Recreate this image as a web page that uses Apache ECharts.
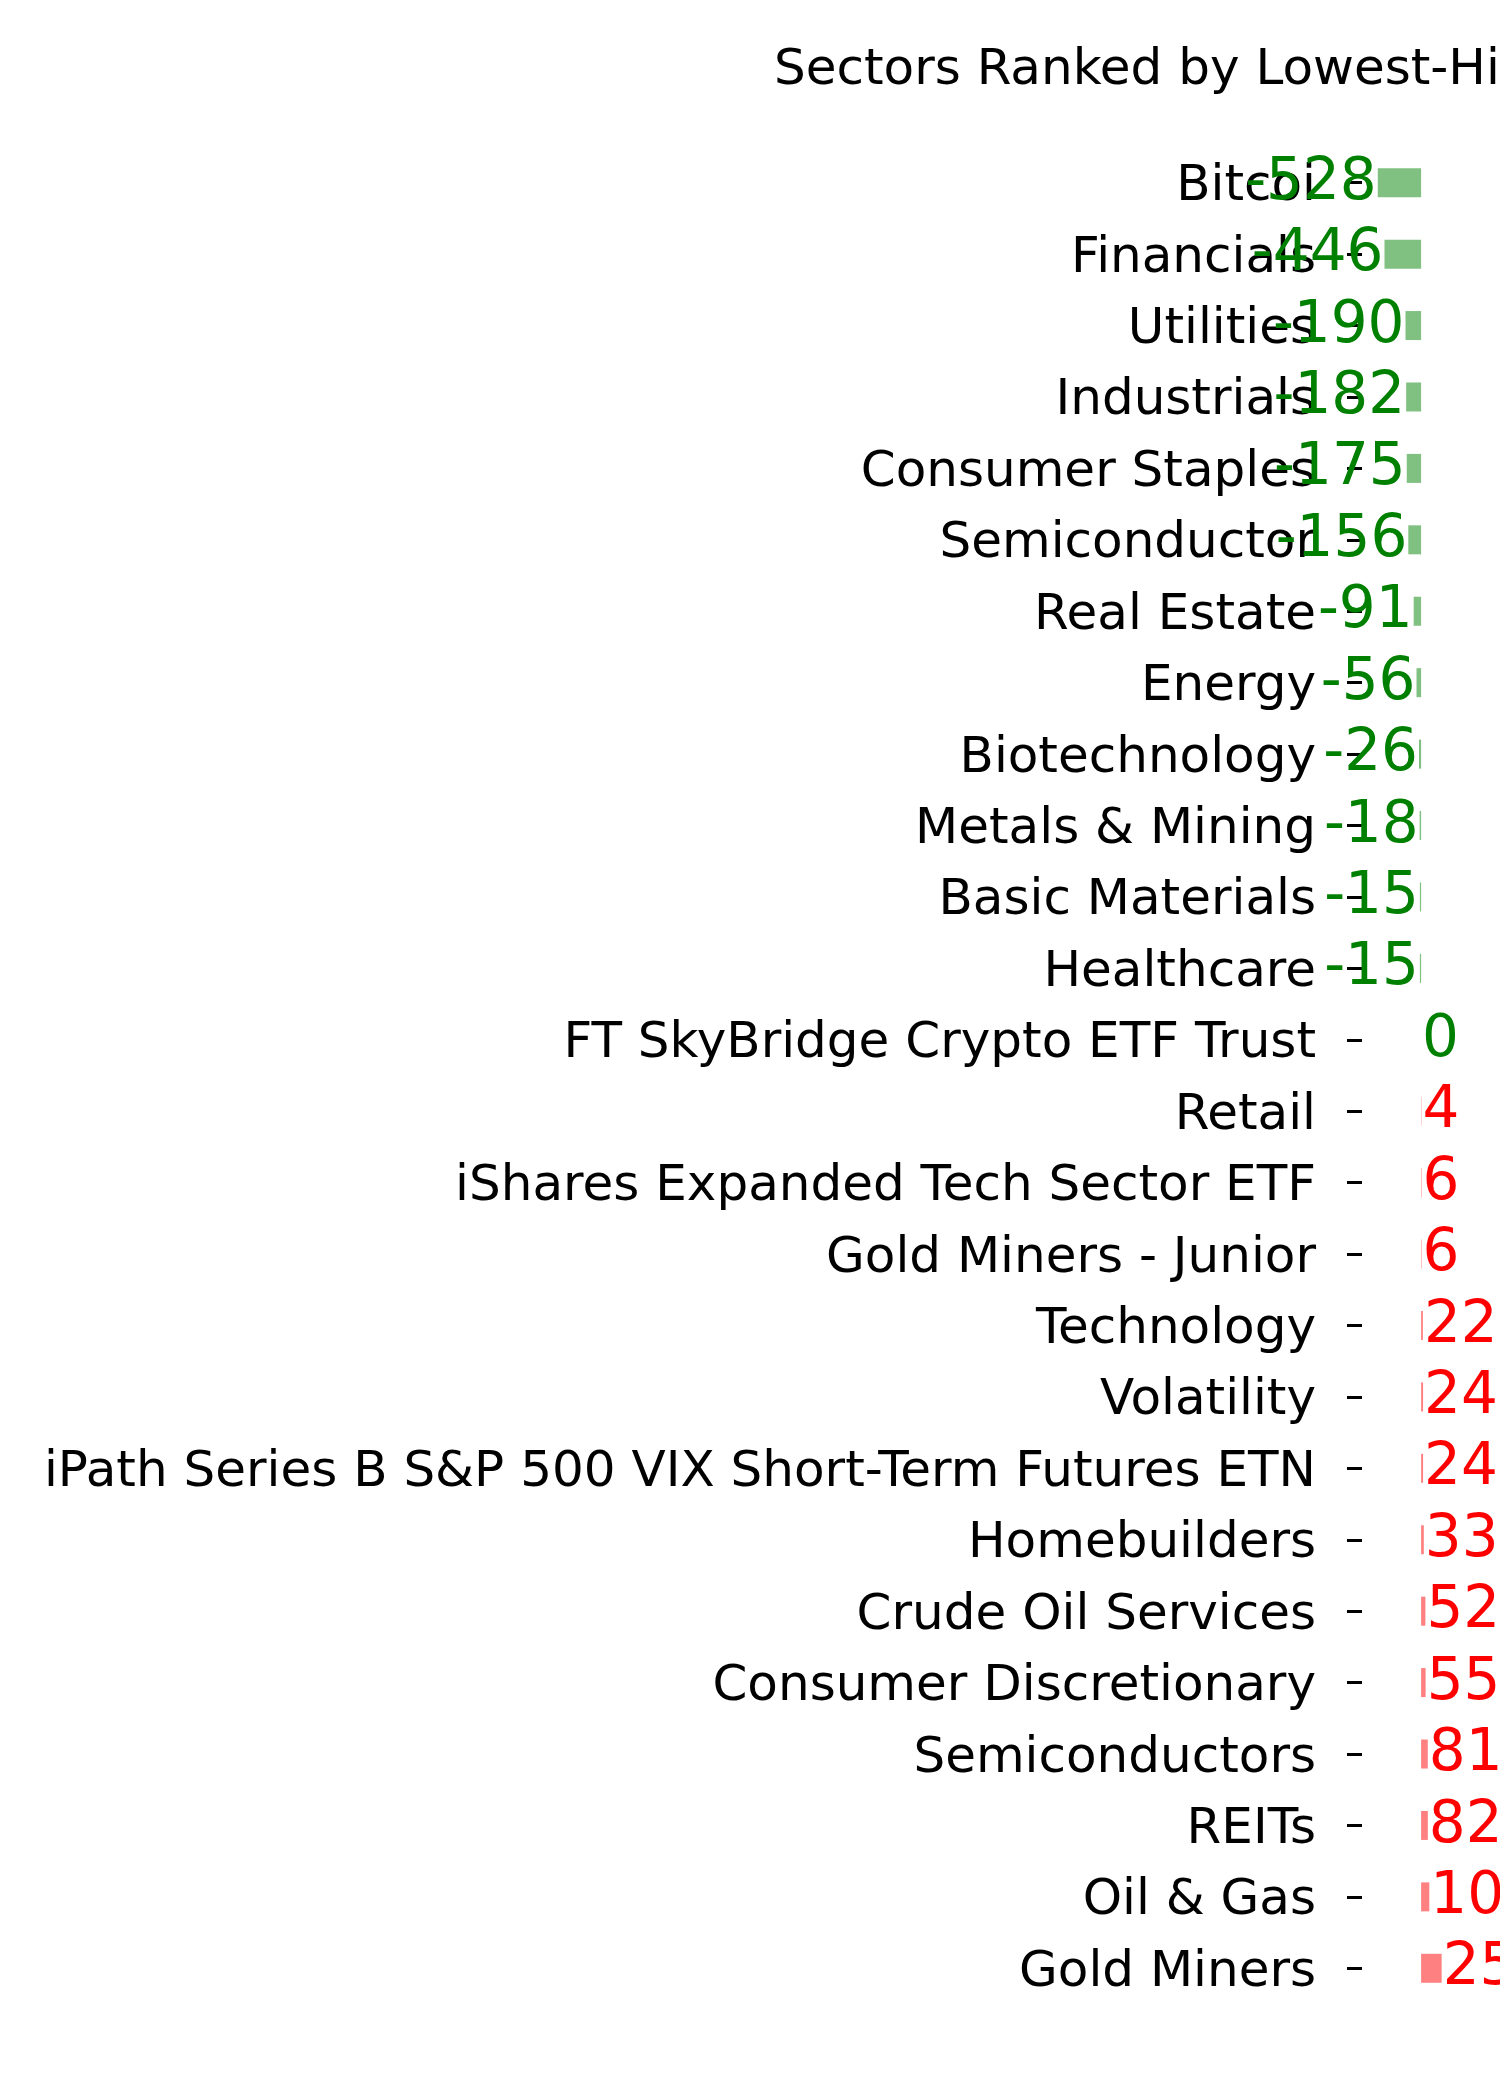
<!DOCTYPE html>
<html>
<head>
<meta charset="utf-8">
<script src="https://cdn.jsdelivr.net/npm/echarts@6/dist/echarts.min.js"></script>
<style>
    html, body { margin: 0; padding: 0; background: #fff; }
    #sector-rank { width: 1500px; height: 2100px; }
</style>
</head>
<body>
<div id="sector-rank"></div>
<script>
// sectors, top to bottom
var sectors = [
    'Bitcoi', 'Financials', 'Utilities', 'Industrials', 'Consumer Staples',
    'Semiconductor', 'Real Estate', 'Energy', 'Biotechnology', 'Metals & Mining',
    'Basic Materials', 'Healthcare', 'FT SkyBridge Crypto ETF Trust', 'Retail',
    'iShares Expanded Tech Sector ETF', 'Gold Miners - Junior', 'Technology',
    'Volatility', 'iPath Series B S&P 500 VIX Short-Term Futures ETN',
    'Homebuilders', 'Crude Oil Services', 'Consumer Discretionary',
    'Semiconductors', 'REITs', 'Oil & Gas', 'Gold Miners'
];
var changes = [
    -528, -446, -190, -182, -175,
    -156, -91, -56, -26, -18,
    -15, -15, 0, 4,
    6, 6, 22,
    24, 24,
    33, 52, 55,
    81, 82, 100, 250
];
var titleText = 'Sectors Ranked by Lowest-Highest';

var myChart = echarts.init(document.getElementById('sector-rank'));

var barData = changes.map(function (v) {
    var neg = v <= 0;
    return {
        value: v,
        itemStyle: { color: neg ? '#80c080' : '#ff8080' },
        label: {
            position: v < 0 ? 'left' : 'right',
            color: neg ? '#008000' : '#ff0000'
        }
    };
});

var option = {
    animation: false,
    backgroundColor: '#ffffff',
    title: {
        text: titleText,
        left: 774,
        top: 46,
        padding: 0,
        textStyle: {
            fontFamily: 'DejaVu Sans',
            fontSize: 50,
            fontWeight: 'normal',
            color: '#000'
        }
    },
    grid: {
        left: 1362,
        width: 133,
        top: 147,
        height: 1857,
        containLabel: false,
        outerBoundsMode: 'none'
    },
    xAxis: {
        type: 'value',
        min: -720,
        max: 900,
        show: false,
        splitLine: { show: false }
    },
    yAxis: {
        type: 'category',
        data: sectors,
        inverse: true,
        axisLine: { show: false, onZero: false },
        axisTick: {
            show: true,
            alignWithLabel: true,
            length: 15,
            lineStyle: { color: '#000', width: 3 }
        },
        axisLabel: {
            margin: 46,
            fontFamily: 'DejaVu Sans',
            fontSize: 50,
            color: '#000',
            // nudge names a few px down, like the source
            formatter: function (name) {
                return '{n|' + name + '}';
            },
            rich: {
                n: {
                    fontFamily: 'DejaVu Sans',
                    fontSize: 50,
                    color: '#000',
                    padding: [9, 0, 0, 0]
                }
            }
        },
        splitLine: { show: false }
    },
    series: [
        {
            type: 'bar',
            data: barData,
            barWidth: 29,
            label: {
                show: true,
                distance: 1,
                offset: [0, 1],
                fontFamily: 'DejaVu Sans',
                fontSize: 58
            }
        }
    ]
};
myChart.setOption(option);
</script>
</body>
</html>
